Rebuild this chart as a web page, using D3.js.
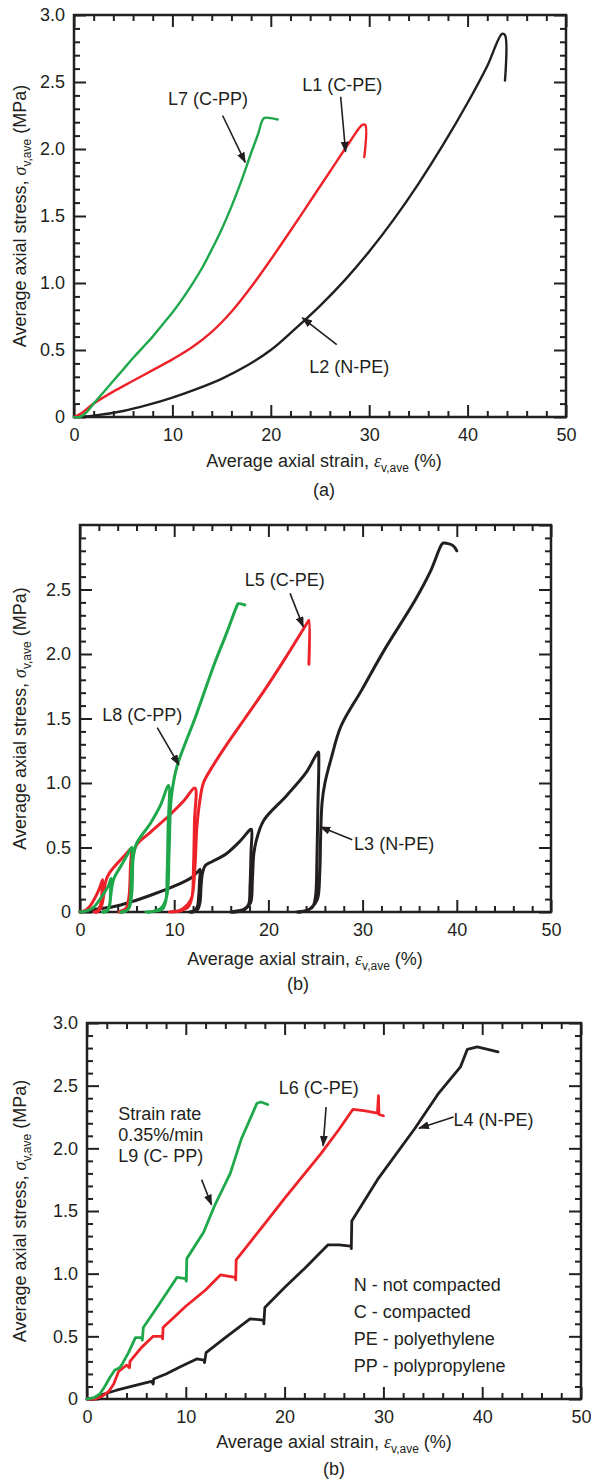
<!DOCTYPE html>
<html>
<head>
<meta charset="utf-8">
<script src="https://cdn.jsdelivr.net/npm/d3@7"></script>
<style>
  body { margin: 0; background: #fff; }
  text { font-family: "Liberation Sans", Arial, sans-serif; fill: #231f20; }
</style>
</head>
<body>
<div id="chart"></div>
<script>
// ---- Data: [strain %, stress MPa] ----
// panel (a): monotonic loading
var l7 = [[0,0],[0.6,0],[1.2,0.03],[2,0.1],[3,0.185],[4,0.27],[5,0.355],[6,0.44],[7,0.52],[8,0.6],[9,0.69],
  [10,0.78],[11,0.88],[12,0.99],[13,1.11],[14,1.25],[15,1.4],[16,1.57],[17,1.76],[18,1.97],[18.7,2.11],[19.3,2.23],[20,2.23],[20.7,2.22]];
var l1 = [[0,0],[0.8,0.03],[2,0.1],[4,0.19],[6,0.27],[8,0.35],[10,0.43],[12,0.52],[14,0.635],[16,0.785],[18,0.97],
  [20,1.175],[22,1.39],[24,1.61],[26,1.83],[28,2.05],[29.3,2.18],[29.6,2.18],[29.5,1.94]];
var l2 = [[0,0],[2,0.01],[5,0.045],[7.5,0.09],[10,0.145],[12.5,0.21],[15,0.285],[17.5,0.38],[20,0.5],[22.5,0.66],
  [25,0.83],[27.5,1.02],[30,1.235],[32.5,1.475],[35,1.74],[37.5,2.03],[40,2.345],[42,2.62],[43.5,2.86],[43.8,2.85],[43.8,2.51]];

// panel (b): cyclic loading
var l3 = [[0,0],[1.5,0.02],[3.5,0.04],[5.5,0.08],[7.5,0.13],[10,0.2],[11.9,0.27],[12.6,0.32],[12.75,0.33],
  [12.7,0.25],[12.6,0.12],[12.45,0.04],[12.1,0.01],[11.6,0],
  [12.0,0],[12.5,0.02],[12.75,0.08],[12.85,0.2],[13.0,0.3],[13.3,0.36],[14,0.39],[15.5,0.45],[17,0.55],[18.1,0.64],[18.2,0.64],
  [18.15,0.45],[18.05,0.2],[17.9,0.06],[17.4,0.02],[16.0,0],
  [16.5,0],[17.5,0.02],[18.1,0.07],[18.3,0.25],[18.45,0.45],[18.7,0.55],[19.5,0.71],[21.9,0.9],[24,1.08],[25.3,1.24],
  [25.35,1.2],[25.25,0.8],[25.15,0.4],[25.0,0.12],[24.7,0.04],[24.0,0.01],[23.0,0],
  [23.4,0],[24.5,0.03],[25.2,0.1],[25.45,0.3],[25.55,0.6],[25.7,0.85],[26.0,1.0],[26.7,1.2],[27.7,1.44],
  [29.9,1.72],[32.3,2.03],[35.6,2.42],[37.2,2.64],[38.4,2.85],[38.6,2.86],[39.6,2.84],[40.0,2.8]];
var l5 = [[0,0],[0.5,0.01],[1,0.04],[1.6,0.11],[2.1,0.19],[2.4,0.25],
  [2.35,0.18],[2.2,0.06],[1.9,0.01],[1.5,0],
  [1.8,0],[2.2,0.03],[2.5,0.12],[2.7,0.23],[3.1,0.3],[4,0.38],[5,0.46],[5.4,0.49],
  [5.35,0.35],[5.2,0.12],[4.9,0.03],[4.1,0],
  [4.4,0],[5.1,0.04],[5.4,0.2],[5.6,0.42],[6,0.52],[7.5,0.62],[9.5,0.75],[11,0.86],[12.2,0.96],
  [12.15,0.7],[12.05,0.35],[11.9,0.12],[11.5,0.04],[10.7,0.01],[9.5,0],
  [9.8,0],[11,0.03],[11.8,0.1],[12.2,0.35],[12.4,0.65],[12.7,0.85],[13.1,1.0],[14,1.12],[15.5,1.29],
  [17.5,1.5],[19.5,1.71],[21.9,1.98],[24.2,2.25],[24.3,2.26],[24.3,1.92]];
var l8 = [[0,0],[0.8,0.01],[1.5,0.04],[2.3,0.12],[3.0,0.2],[3.3,0.26],
  [3.25,0.18],[3.15,0.06],[2.9,0.01],[2.4,0],
  [2.7,0],[3.1,0.04],[3.3,0.15],[3.6,0.26],[4.3,0.35],[5.0,0.44],[5.5,0.5],
  [5.45,0.3],[5.35,0.1],[5.1,0.02],[4.3,0],
  [4.6,0],[5.2,0.03],[5.5,0.15],[5.65,0.42],[6.0,0.53],[7.5,0.69],[8.5,0.82],[9.4,0.98],
  [9.35,0.65],[9.25,0.3],[9.1,0.08],[8.7,0.02],[7.0,0],
  [7.4,0],[8.6,0.03],[9.2,0.12],[9.45,0.45],[9.6,0.8],[9.8,0.95],[10.3,1.13],[12.3,1.52],[14.3,1.93],
  [15.5,2.15],[16.7,2.38],[16.8,2.39],[17.5,2.38]];

// panel (c): strain rate 0.35%/min with hold steps
var l9 = [[0,0],[0.7,0.01],[1.3,0.04],[1.8,0.1],[2.3,0.17],[2.8,0.23],[3.3,0.25],[3.5,0.27],[4.2,0.37],[4.9,0.49],
  [5.5,0.49],[5.6,0.47],[5.7,0.57],[7.25,0.75],[9.1,0.97],[10.0,0.96],[10.05,0.94],[10.1,1.12],[11.8,1.33],
  [12.9,1.54],[14.5,1.8],[15.6,2.07],[17.2,2.36],[17.6,2.37],[18.3,2.35]];
var l6 = [[0,0],[0.8,0],[1.5,0.02],[2.2,0.06],[2.7,0.12],[3.2,0.22],[4.0,0.27],[4.3,0.25],[4.35,0.3],[5.5,0.41],
  [6.7,0.5],[7.6,0.5],[7.65,0.48],[7.7,0.57],[10,0.74],[12,0.87],[13.5,0.99],[15.0,0.97],[15.05,0.95],[15.1,1.11],
  [17.9,1.39],[20,1.6],[23.7,1.96],[25.5,2.15],[26.9,2.31],[28,2.3],[29.4,2.28],[29.5,2.42],[29.55,2.27],[30.0,2.26]];
var l4 = [[0,0],[0.7,0],[1.3,0.03],[3,0.07],[4.5,0.1],[6.0,0.13],[6.55,0.14],[6.7,0.12],[6.75,0.16],[8,0.2],
  [9.5,0.26],[11.1,0.32],[11.85,0.31],[11.9,0.29],[12.05,0.37],[14,0.49],[16.5,0.64],[17.85,0.63],[17.9,0.6],
  [18.0,0.73],[20,0.89],[22,1.04],[24.4,1.23],[25.5,1.23],[26.7,1.22],[26.75,1.2],[26.8,1.42],[29.4,1.75],
  [33.2,2.16],[35.5,2.43],[37.8,2.65],[38.5,2.79],[39.5,2.81],[41.6,2.77]];

var xTicks = [0, 10, 20, 30, 40, 50];
var yTicksFull = [0, 0.5, 1.0, 1.5, 2.0, 2.5, 3.0];
var yTicksShort = [0, 0.5, 1.0, 1.5, 2.0, 2.5];
var legendLines = ["N - not compacted", "C - compacted", "PE - polyethylene", "PP - polypropylene"];

var green = "#1fa84b", red = "#ee2229", black = "#231f20";

// ---- Chart ----
var svg = d3.select("#chart").append("svg")
  .attr("width", 591)
  .attr("height", 1481);

svg.append("defs").append("marker")
  .attr("id", "arrow")
  .attr("markerUnits", "userSpaceOnUse")
  .attr("markerWidth", 11).attr("markerHeight", 8)
  .attr("refX", 10).attr("refY", 4)
  .attr("orient", "auto")
  .append("path").attr("d", "M0,0 L11,4 L0,8 z").attr("fill", black);

var panels = [
  { left: 74, top: 15, right: 566, bottom: 417, yTicks: yTicksFull, titleX: 324, titleY: 467, caption: "(a)", capX: 324, capY: 496,
    lw: 2.4,
    series: [{ d: l2, c: black }, { d: l1, c: red }, { d: l7, c: green }],
    labels: [{ t: "L7 (C-PP)", x: 9.55, y: 2.33 }, { t: "L1 (C-PE)", x: 23.2, y: 2.43 }, { t: "L2 (N-PE)", x: 23.9, y: 0.33 }],
    arrows: [[15.1, 2.25, 17.4, 1.9], [27.1, 2.39, 27.6, 1.98], [26.7, 0.54, 23.2, 0.74]] },
  { left: 80, top: 525, right: 551, bottom: 912, yTicks: yTicksShort, titleX: 305, titleY: 965, caption: "(b)", capX: 298, capY: 990,
    lw: 3,
    series: [{ d: l3, c: black }, { d: l5, c: red }, { d: l8, c: green }],
    labels: [{ t: "L5 (C-PE)", x: 17.5, y: 2.53 }, { t: "L8 (C-PP)", x: 2.36, y: 1.48 }, { t: "L3 (N-PE)", x: 29.1, y: 0.48 }],
    arrows: [[22.3, 2.47, 23.7, 2.21], [8.2, 1.43, 10.5, 1.14], [28.9, 0.56, 25.5, 0.66]] },
  { left: 87, top: 1023, right: 581, bottom: 1399, yTicks: yTicksFull, titleX: 334, titleY: 1448, caption: "(b)", capX: 334, capY: 1475,
    lw: 2.8,
    series: [{ d: l4, c: black, sharp: true }, { d: l6, c: red, sharp: true }, { d: l9, c: green, sharp: true }],
    labels: [{ t: "Strain rate", x: 3.17, y: 2.23 }, { t: "0.35%/min", x: 3.17, y: 2.06 }, { t: "L9 (C- PP)", x: 3.17, y: 1.89 },
      { t: "L6 (C-PE)", x: 19.4, y: 2.43 }, { t: "L4 (N-PE)", x: 37.1, y: 2.18 }]
      .concat(legendLines.map(function(t, i) { return { t: t, x: 27.0, y: 0.86 - i * 0.215 }; })),
    arrows: [[11.6, 1.75, 12.6, 1.55], [24.2, 2.33, 23.9, 2.02], [37.1, 2.25, 33.6, 2.16]] }
];

panels.forEach(function(p) {
  var w = p.right - p.left, h = p.bottom - p.top;
  var g = svg.append("g").attr("transform", `translate(${p.left}, ${p.top})`);

  var x = d3.scaleLinear().domain([0, 50]).range([0, w]);
  var y = d3.scaleLinear().domain([0, 3]).range([h, 0]);

  var xMinor = d3.range(0, 51, 2).filter(v => v % 10 !== 0);
  var yMinor = d3.range(0, 31).filter(v => v % 5 !== 0).map(v => v / 10);

  // major + minor ticks on all four sides, pointing inward
  function ticks(axis, tr) {
    var a = g.append("g").attr("transform", tr).call(axis);
    a.select(".domain").remove();
    a.selectAll("line").attr("stroke", black).attr("stroke-width", 2);
    a.selectAll("text").style("font-size", "18px").style("font-family", '"Liberation Sans", Arial, sans-serif').attr("fill", black);
    return a;
  }
  ticks(d3.axisBottom(x).tickValues(xTicks).tickSize(-12).tickPadding(11).tickFormat(d3.format("d")), `translate(0, ${h})`);
  ticks(d3.axisBottom(x).tickValues(xMinor).tickSize(-6).tickFormat(""), `translate(0, ${h})`);
  ticks(d3.axisTop(x).tickValues(xTicks).tickSize(-12).tickFormat(""), "translate(0, 0)");
  ticks(d3.axisTop(x).tickValues(xMinor).tickSize(-6).tickFormat(""), "translate(0, 0)");
  ticks(d3.axisLeft(y).tickValues(p.yTicks).tickSize(-12).tickPadding(9)
    .tickFormat(d => d === 0 ? "0" : d.toFixed(1)), "translate(0, 0)");
  ticks(d3.axisLeft(y).tickValues(yMinor).tickSize(-6).tickFormat(""), "translate(0, 0)");
  ticks(d3.axisRight(y).tickValues(yTicksFull).tickSize(-12).tickFormat(""), `translate(${w}, 0)`);
  ticks(d3.axisRight(y).tickValues(yMinor).tickSize(-6).tickFormat(""), `translate(${w}, 0)`);

  g.append("rect")
    .attr("width", w).attr("height", h)
    .attr("fill", "none").attr("stroke", black).attr("stroke-width", 2.5);

  // curves
  p.series.forEach(function(s) {
    var line = d3.line()
      .x(d => x(d[0]))
      .y(d => y(d[1]))
      .curve(s.sharp ? d3.curveLinear : d3.curveCatmullRom.alpha(0.5));
    g.append("path")
      .datum(s.d)
      .attr("d", line)
      .attr("fill", "none")
      .attr("stroke", s.c)
      .attr("stroke-width", p.lw)
      .attr("stroke-linejoin", "round")
      .attr("stroke-linecap", "round");
  });

  // annotations
  p.labels.forEach(function(l) {
    g.append("text")
      .attr("x", x(l.x)).attr("y", y(l.y))
      .style("font-size", "18px")
      .text(l.t);
  });
  p.arrows.forEach(function(a) {
    g.append("line")
      .attr("x1", x(a[0])).attr("y1", y(a[1]))
      .attr("x2", x(a[2])).attr("y2", y(a[3]))
      .attr("stroke", black).attr("stroke-width", 1.6)
      .attr("marker-end", "url(#arrow)");
  });

  // x-axis title
  var xt = svg.append("text")
    .attr("x", p.titleX).attr("y", p.titleY)
    .attr("text-anchor", "middle")
    .style("font-size", "18px");
  xt.append("tspan").text("Average axial strain, ");
  xt.append("tspan").style("font-family", '"Liberation Serif", "DejaVu Serif", serif').style("font-style", "italic").text("ε");
  xt.append("tspan").style("font-size", "12px").attr("dy", 5).text("v,ave");
  xt.append("tspan").attr("dy", -5).text(" (%)");

  // y-axis title
  var yt = svg.append("text")
    .attr("transform", `translate(26, ${(p.top + p.bottom) / 2}) rotate(-90)`)
    .attr("text-anchor", "middle")
    .style("font-size", "18px");
  yt.append("tspan").text("Average axial stress, ");
  yt.append("tspan").style("font-family", '"Liberation Serif", "DejaVu Serif", serif').style("font-style", "italic").text("σ");
  yt.append("tspan").style("font-size", "12px").attr("dy", 5).text("v,ave");
  yt.append("tspan").attr("dy", -5).text(" (MPa)");

  svg.append("text")
    .attr("x", p.capX).attr("y", p.capY)
    .attr("text-anchor", "middle")
    .style("font-size", "18px")
    .text(p.caption);
});
</script>
</body>
</html>
